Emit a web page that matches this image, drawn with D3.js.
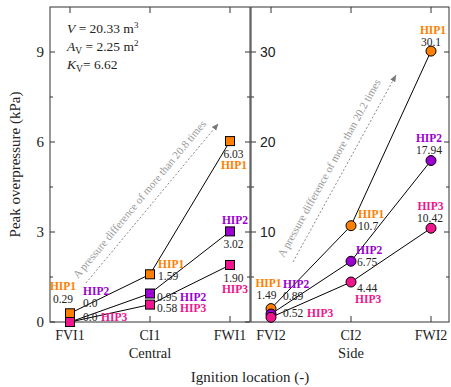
<!DOCTYPE html>
<html><head><meta charset="utf-8">
<script src="https://cdn.jsdelivr.net/npm/d3@7"></script>
<style>body{margin:0;background:#fff}</style>
</head><body>
<svg id="chart" width="451" height="387"></svg>
<script>
// Ignition locations for each layout
const centralSites = ["FVI1", "CI1", "FWI1"];
const sideSites = ["FVI2", "CI2", "FWI2"];
const seriesNames = ["HIP1", "HIP2", "HIP3"];
const seriesColors = ["#ff8000", "#9b00d0", "#f0158c"];

// Peak overpressure (kPa), kept as the printed strings
const centralHIP1 = ["0.29", "1.59", "6.03"];
const centralHIP2 = ["0.0", "0.95", "3.02"];
const centralHIP3 = ["0.0", "0.58", "1.90"];
const sideHIP1 = ["1.49", "10.7", "30.1"];
const sideHIP2 = ["0.89", "6.75", "17.94"];
const sideHIP3 = ["0.52", "4.44", "10.42"];

const centralTicks = [0, 3, 6, 9];
const centralMinor = [1.5, 4.5, 7.5];
const sideTicks = [10, 20, 30];
const sideMinor = [5, 15, 25];

const serif = "'Liberation Serif','Times New Roman',serif";
const sans = "'Liberation Sans',Arial,sans-serif";
const axisColor = "#333";
const labelSize = 11.5;

const svg = d3.select("#chart");
const plotTop = 7, plotBottom = 322;

// label offsets per series/point: [nameDx, nameDy, valueDx, valueDy, anchor]
const centralLayout = [
  [[-7, -23, -7, -10, "middle"], [8, -6, 8, 6, "start"], [4, 28, 3.5, 17, "middle"]],
  [[13, -27, 13, -15, "start"], [30, 7, 7, 7, "start"], [5, -7, 3.5, 17, "middle"]],
  [[31, -1, 13, -1, "start"], [30, 7, 7, 7, "start"], [5, 28, 3.5, 17, "middle"]]
];
const sideLayout = [
  [[-2.5, -21.6, -4.5, -9.6, "middle"], [7, -8, 7, 4, "start"], [2, -17, 0, -5, "middle"]],
  [[12, -26, 12, -14, "start"], [5, -7, 6, 5, "start"], [-2, -18.5, -2, -6.5, "middle"]],
  [[36, 0, 12, 0, "start"], [4, 21, 6, 10, "start"], [-0.5, -18, -1, -6, "middle"]]
];

const panels = [
  {
    sites: centralSites, series: [centralHIP1, centralHIP2, centralHIP3],
    x: d3.scaleLinear().domain([-0.25, 2.25]).range([50, 250]),
    y: d3.scaleLinear().domain([0, 10.5]).range([plotBottom, plotTop]),
    ticks: centralTicks, minor: centralMinor, layout: centralLayout,
    shape: "square", title: "Central", outsideLabels: true,
    note: "A pressure difference of more than 20.8 times",
    noteText: [0.1, 1.43], noteFrom: [0.2, 1.3], noteTo: [1.85, 6.6]
  },
  {
    sites: sideSites, series: [sideHIP1, sideHIP2, sideHIP3],
    x: d3.scaleLinear().domain([-0.25, 2.225]).range([251, 449]),
    y: d3.scaleLinear().domain([0, 35]).range([plotBottom, plotTop]),
    ticks: sideTicks, minor: sideMinor, layout: sideLayout,
    shape: "circle", title: "Side", outsideLabels: false,
    note: "A pressure difference of more than 20.2 times",
    noteText: [0.16, 7.1], noteFrom: [0.275, 6.67], noteTo: [1.56, 27.4]
  }
];

svg.append("defs").append("marker")
  .attr("id", "arrow").attr("viewBox", "0 0 10 10")
  .attr("refX", 9).attr("refY", 5)
  .attr("markerWidth", 7).attr("markerHeight", 7)
  .attr("markerUnits", "userSpaceOnUse")
  .attr("orient", "auto")
  .append("path").attr("d", "M0,1 L10,5 L0,9 Z").attr("fill", "#777");

panels.forEach(p => {
  const g = svg.append("g");
  const [x0, x1] = p.x.range();

  // frame
  g.append("rect").attr("x", x0).attr("y", plotTop)
    .attr("width", x1 - x0).attr("height", plotBottom - plotTop)
    .attr("fill", "none").attr("stroke", axisColor).attr("stroke-width", 1);

  // y ticks on both sides, pointing inward
  p.ticks.forEach(t => {
    const yy = p.y(t);
    g.append("line").attr("x1", x0).attr("x2", x0 + 5).attr("y1", yy).attr("y2", yy).attr("stroke", axisColor);
    g.append("line").attr("x1", x1).attr("x2", x1 - 5).attr("y1", yy).attr("y2", yy).attr("stroke", axisColor);
  });
  p.minor.forEach(t => {
    const yy = p.y(t);
    g.append("line").attr("x1", x0).attr("x2", x0 + 3).attr("y1", yy).attr("y2", yy).attr("stroke", axisColor);
    g.append("line").attr("x1", x1).attr("x2", x1 - 3).attr("y1", yy).attr("y2", yy).attr("stroke", axisColor);
  });
  p.ticks.forEach(t => {
    g.append("text")
      .attr("x", p.outsideLabels ? x0 - 6 : x0 + 9)
      .attr("y", p.y(t)).attr("dy", "0.35em")
      .attr("text-anchor", p.outsideLabels ? "end" : "start")
      .attr("font-family", p.outsideLabels ? serif : sans)
      .attr("font-size", p.outsideLabels ? 15 : 14)
      .attr("fill", "#222").text(t);
  });

  // category ticks on top and bottom, pointing inward
  p.sites.forEach((s, i) => {
    const xx = p.x(i);
    g.append("line").attr("x1", xx).attr("x2", xx).attr("y1", plotBottom).attr("y2", plotBottom - 6).attr("stroke", axisColor);
    g.append("line").attr("x1", xx).attr("x2", xx).attr("y1", plotTop).attr("y2", plotTop + 6).attr("stroke", axisColor);
    g.append("text").attr("x", xx).attr("y", 340)
      .attr("text-anchor", "middle").attr("font-family", serif)
      .attr("font-size", 14).attr("fill", "#222").text(s);
  });
  g.append("text").attr("x", p.x(1)).attr("y", 358)
    .attr("text-anchor", "middle").attr("font-family", serif)
    .attr("font-size", 14.5).attr("fill", "#222").text(p.title);

  // trend annotation: dotted arrow with slanted text
  const a = [p.x(p.noteFrom[0]), p.y(p.noteFrom[1])];
  const b = [p.x(p.noteTo[0]), p.y(p.noteTo[1])];
  g.append("line").attr("x1", a[0]).attr("y1", a[1]).attr("x2", b[0]).attr("y2", b[1])
    .attr("stroke", "#888").attr("stroke-width", 1).attr("stroke-dasharray", "2,2")
    .attr("marker-end", "url(#arrow)");
  const ang = Math.atan2(b[1] - a[1], b[0] - a[0]) * 180 / Math.PI;
  const tx = p.x(p.noteText[0]), ty = p.y(p.noteText[1]);
  g.append("text").attr("transform", `translate(${tx},${ty}) rotate(${ang})`)
    .attr("font-family", serif).attr("font-size", 11).attr("fill", "#999")
    .text(p.note);

  // connecting lines
  const line = d3.line().x((d, i) => p.x(i)).y(d => p.y(+d));
  p.series.forEach(vals => {
    g.append("path").datum(vals).attr("d", line)
      .attr("fill", "none").attr("stroke", "#000").attr("stroke-width", 1);
  });

  // markers
  p.series.forEach((vals, si) => {
    vals.forEach((v, i) => {
      const cx = p.x(i), cy = p.y(+v);
      if (p.shape === "square") {
        g.append("rect").attr("x", cx - 4.5).attr("y", cy - 4.5)
          .attr("width", 9).attr("height", 9)
          .attr("fill", seriesColors[si]).attr("stroke", "#000").attr("stroke-width", 1);
      } else {
        g.append("circle").attr("cx", cx).attr("cy", cy).attr("r", 5)
          .attr("fill", seriesColors[si]).attr("stroke", "#000").attr("stroke-width", 1);
      }
    });
  });

  // value and series labels
  p.series.forEach((vals, si) => {
    vals.forEach((v, i) => {
      const cx = p.x(i), cy = p.y(+v);
      const [ndx, ndy, vdx, vdy, anchor] = p.layout[si][i];
      g.append("text").attr("x", cx + ndx).attr("y", cy + ndy)
        .attr("text-anchor", anchor).attr("font-family", serif)
        .attr("font-size", labelSize).attr("font-weight", "bold")
        .attr("fill", seriesColors[si]).text(seriesNames[si]);
      g.append("text").attr("x", cx + vdx).attr("y", cy + vdy)
        .attr("text-anchor", anchor).attr("font-family", serif)
        .attr("font-size", labelSize).attr("fill", "#222").text(v);
    });
  });
});

// geometry parameters
const info = svg.append("g").attr("font-family", serif).attr("font-size", 13.5).attr("fill", "#222");
const l1 = info.append("text").attr("x", 67).attr("y", 33);
l1.append("tspan").attr("font-style", "italic").text("V");
l1.append("tspan").text(" = 20.33 m");
l1.append("tspan").attr("dy", -5).attr("font-size", 9).text("3");
const l2 = info.append("text").attr("x", 67).attr("y", 51);
l2.append("tspan").attr("font-style", "italic").text("A");
l2.append("tspan").attr("dy", 3).attr("font-size", 9.5).text("V");
l2.append("tspan").attr("dy", -3).text(" = 2.25 m");
l2.append("tspan").attr("dy", -5).attr("font-size", 9).text("2");
const l3 = info.append("text").attr("x", 67).attr("y", 69);
l3.append("tspan").attr("font-style", "italic").text("K");
l3.append("tspan").attr("dy", 3).attr("font-size", 9.5).text("V");
l3.append("tspan").attr("dy", -3).text("= 6.62");

// axis titles
svg.append("text").attr("transform", `translate(20,${(plotTop + plotBottom) / 2}) rotate(-90)`)
  .attr("text-anchor", "middle").attr("font-family", serif).attr("font-size", 15)
  .attr("fill", "#222").text("Peak overpressure (kPa)");
svg.append("text").attr("x", 250).attr("y", 382)
  .attr("text-anchor", "middle").attr("font-family", serif).attr("font-size", 15)
  .attr("fill", "#222").text("Ignition location (-)");
</script>
</body></html>
